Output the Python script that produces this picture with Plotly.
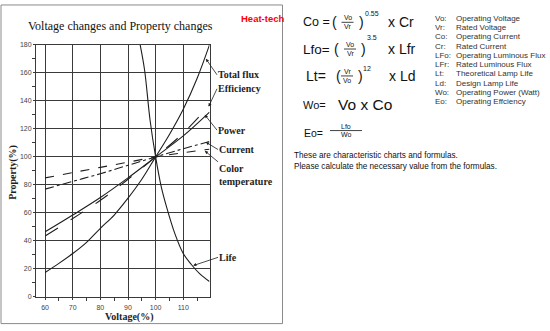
import plotly.graph_objects as go

# ---------------- data ----------------
flux_v = [60, 65, 70, 75, 80, 85, 90, 95, 100, 105, 110, 115, 119.5]
flux_p = [17.5, 24, 31, 39, 49, 58.5, 70.5, 84, 100, 116, 134, 156, 180]

life_v = [94.4, 96, 98, 100, 102, 104, 107, 110, 113, 116, 119.5]
life_p = [180, 162, 126, 100, 79, 64, 45, 31, 23, 16.5, 11]

line_v = [60, 70, 80, 90, 100, 110, 119.5]
color_temp_p = [85, 88.8, 92.5, 96.2, 100, 103, 105.5]
current_p = [77, 82.5, 88, 94, 100, 105.8, 111]
power_p = [46.5, 58.5, 71, 85, 100, 115, 132]
efficiency_p = [43.5, 56, 69, 84, 100, 117, 137]

x_ticks = [60, 70, 80, 90, 100, 110]
x_minor = [65, 75, 85, 95, 105, 115]
y_ticks = [0, 20, 40, 60, 80, 100, 120, 140, 160, 180]
y_minor = [10, 30, 50, 70, 90, 110, 130, 150, 170]

abbrevs = ["Vo:", "Vr:", "Co:", "Cr:", "LFo:", "LFr:", "Lt:", "Ld:", "Wo:", "Eo:"]
meanings = ["Operating Voltage", "Rated Voltage", "Operating Current", "Rated Current",
            "Operating Luminous Flux", "Rated Luminous Flux", "Theoretical Lamp Life",
            "Design Lamp Life", "Operating Power (Watt)", "Operating Effciency"]

# ---------------- layout geometry ----------------
W, H = 550, 331
X0, X1 = 56.7, 119.5
PX0, PX1 = 36, 209.5
PY0, PY1 = 299.3, 41.7  # pixel y of 0 and 180


def px(x):
    return x / W


def py(y):
    return 1 - y / H


def vx(v):
    return PX0 + (v - X0) / (X1 - X0) * (PX1 - PX0)


def vy(p):
    return PY0 - p / 180 * (PY0 - PY1)


INK = "#1e1e1e"
fig = go.Figure()

def add_line(xs, ys, dash, name):
    fig.add_trace(go.Scatter(x=xs, y=ys, mode="lines", name=name,
                             line=dict(color=INK, width=1.1, dash=dash, shape="spline", smoothing=1.0),
                             showlegend=False, hoverinfo="skip"))

add_line(flux_v, flux_p, "solid", "Total flux")
add_line(life_v, life_p, "solid", "Life")
add_line(line_v, color_temp_p, "dash", "Color temperature")
add_line(line_v, current_p, "dashdot", "Current")
add_line(line_v, power_p, "solid", "Power")
add_line(line_v, efficiency_p, "longdash", "Efficiency")

grid = "#3a3a3a"
fig.update_layout(
    width=W, height=H, margin=dict(l=0, r=0, t=0, b=0),
    paper_bgcolor="white", plot_bgcolor="white",
    xaxis=dict(range=[X0, X1], domain=[px(PX0), px(PX1)], tickvals=x_ticks,
               showgrid=True, gridcolor=grid, gridwidth=1, zeroline=False,
               showline=True, linecolor=grid, linewidth=1, mirror=True,
               ticks="outside", ticklen=2, tickcolor=grid, ticklabelstandoff=2,
               tickfont=dict(family="Liberation Sans", size=7, color="#444"),
               minor=dict(tickvals=x_minor, ticks="outside", ticklen=3, tickcolor=grid, showgrid=False)),
    yaxis=dict(range=[0, 180], domain=[py(PY0), py(PY1)], tickvals=y_ticks,
               showgrid=True, gridcolor=grid, gridwidth=1, zeroline=False,
               showline=True, linecolor=grid, linewidth=1, mirror=True,
               ticks="outside", ticklen=2, tickcolor=grid,
               tickfont=dict(family="Liberation Sans", size=7, color="#444"),
               minor=dict(tickvals=y_minor, ticks="outside", ticklen=3, tickcolor=grid, showgrid=False)),
)

ann = []
serif_b = dict(family="Liberation Serif", size=10, color=INK)

# titles
ann.append(dict(x=px(120), y=py(22), xref="paper", yref="paper", showarrow=False,
                text="Voltage changes and Property changes", xanchor="center", yanchor="middle",
                font=dict(family="Liberation Serif", size=12, color="#111")))
ann.append(dict(x=px(129), y=py(319.5), xref="paper", yref="paper", showarrow=False,
                text="<b>Voltage(%)</b>", xanchor="center", yanchor="middle", font=serif_b))
ann.append(dict(x=px(13.5), y=py(172), xref="paper", yref="paper", showarrow=False,
                text="<b>Property(%)</b>", textangle=-90, xanchor="center", yanchor="middle", font=serif_b))
ann.append(dict(x=px(239), y=py(15), xref="paper", yref="paper", showarrow=False,
                text="<b>Heat-tech</b>", xanchor="left", yanchor="middle",
                font=dict(family="Liberation Sans", size=9.5, color="#ff0000")))

# curve labels with pointers: (text, tip V, tip P, tail x px, tail y px, yanchor)
labels = [
    ("Total flux", 118.2, 170, 217, 72, "middle"),
    ("Efficiency", 119.2, 136, 217, 87, "middle"),
    ("Power", 117.8, 130, 217, 128.5, "middle"),
    ("Current", 118.2, 110.5, 218, 148.5, "middle"),
    ("Color<br>temperature", 117.8, 104.3, 218, 161, "top"),
    ("Life", 113.6, 22.4, 218, 259, "middle"),
]
for t, tv, tp, tx, ty, ya in labels:
    ann.append(dict(x=tv, y=tp, xref="x", yref="y", text="<b>" + t + "</b>", showarrow=True,
                    ax=tx - vx(tv), ay=ty - vy(tp), xanchor="left", yanchor=ya, align="left",
                    arrowhead=2, arrowsize=0.8, arrowwidth=0.8, arrowcolor=INK, standoff=0,
                    borderpad=0, font=serif_b))

# ---------------- formulas ----------------
sans = "Liberation Sans"

def txt(x, y, s, size, anchor="left", color="#111", family=sans):
    ann.append(dict(x=px(x), y=py(y), xref="paper", yref="paper", showarrow=False, text=s,
                    xanchor=anchor, yanchor="middle", font=dict(family=family, size=size, color=color)))

shapes = []

def frac(cx, yline, num, den, half, size=7):
    txt(cx, yline - 4.5, num, size, "center")
    txt(cx, yline + 4.5, den, size, "center")
    shapes.append(dict(type="line", xref="paper", yref="paper", x0=px(cx - half), x1=px(cx + half),
                       y0=py(yline), y1=py(yline), line=dict(color="#111", width=0.8)))

# Co
txt(301, 18.5, "Co =", 12.5)
txt(330, 18.5, "(", 14)
frac(347.5, 18.7, "Vo", "Vr", 6)
txt(357, 18.5, ")", 14)
txt(363, 10, "0.55", 7)
txt(386, 18.5, "x Cr", 14)
# Lfo
txt(301, 46, "Lfo=", 13.5)
txt(332, 46, "(", 14)
frac(350, 46, "Vo", "Vr", 6)
txt(359, 46, ")", 14)
txt(365, 34, "3.5", 7)
txt(386, 46, "x Lfr", 14)
# Lt
txt(304, 73.5, "Lt=", 14)
txt(334, 73.5, "(", 14)
frac(347, 73.5, "Vr", "Vo", 6)
txt(356, 73.5, ")", 14)
txt(361, 66, "12", 7)
txt(387, 73.5, "x Ld", 14)
# Wo
txt(301, 103, "Wo=", 11)
txt(336, 102.5, "Vo x Co", 15.5)
# Eo
txt(302, 131.5, "Eo=", 10.5)
frac(346, 129.3, "Lfo", "Wo", 16)

txt(292, 155, "These are characteristic charts and formulas.", 8.2)
txt(292, 166, "Please calculate the necessary value from the formulas.", 8.2)

for i, (a, m) in enumerate(zip(abbrevs, meanings)):
    yy = 14.7 + i * 9.45
    txt(433, yy, a, 8, color="#333")
    txt(454, yy, m, 8, color="#333")

# frame around chart panel
shapes.append(dict(type="rect", xref="paper", yref="paper", x0=px(1), x1=px(282.5), y0=py(1), y1=py(326.5),
                   line=dict(color="#8a8a8a", width=1)))

fig.update_layout(annotations=ann, shapes=shapes)
fig.write_html("out.html")
